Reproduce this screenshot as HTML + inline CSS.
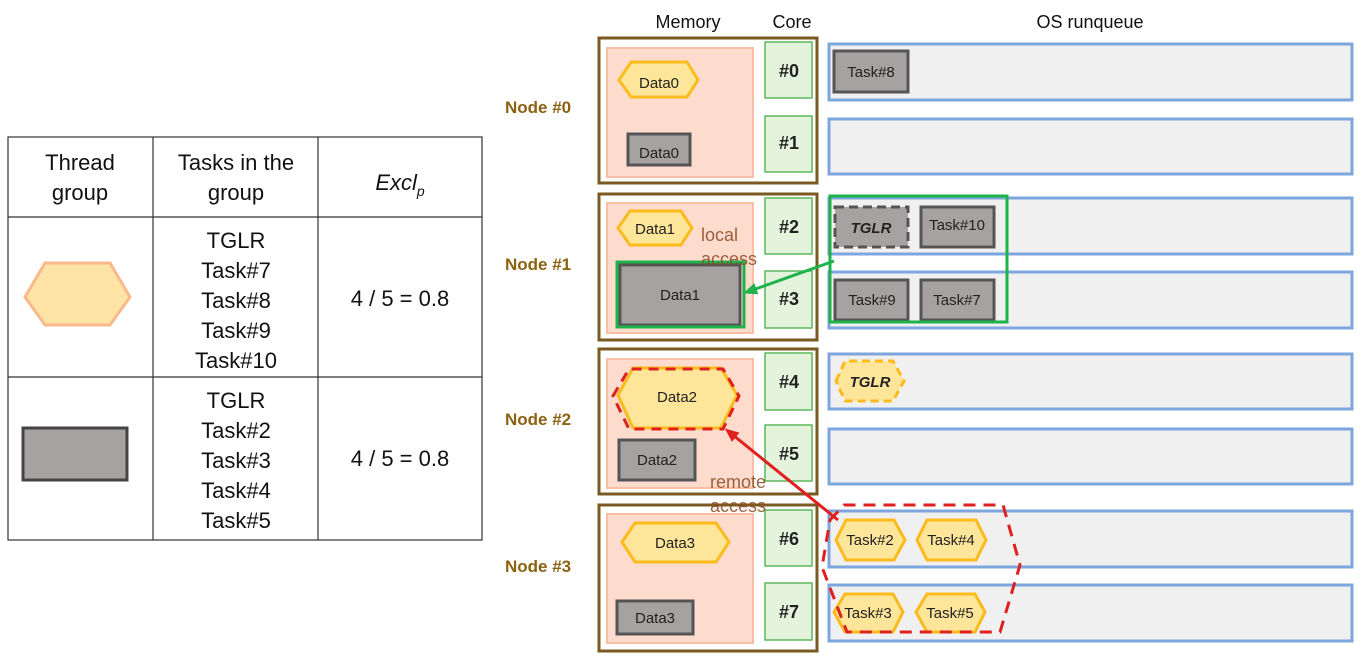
<!DOCTYPE html>
<html><head><meta charset="utf-8"><style>
html,body{margin:0;padding:0;background:#fff;}
svg{display:block;font-family:"Liberation Sans",sans-serif;}
</style></head><body>
<svg width="1365" height="665" viewBox="0 0 1365 665" xmlns="http://www.w3.org/2000/svg">
<defs>
<marker id="ag" markerWidth="14" markerHeight="12" refX="10" refY="6" orient="auto" markerUnits="userSpaceOnUse"><path d="M0,0 L14,6 L0,12 z" fill="#22b24c"/></marker>
<marker id="ar" markerWidth="14" markerHeight="12" refX="10" refY="6" orient="auto" markerUnits="userSpaceOnUse"><path d="M0,0 L14,6 L0,12 z" fill="#e0201e"/></marker>
</defs>
<g stroke="#333" stroke-width="1.2" fill="none">
<rect x="8" y="137" width="474" height="403"/>
<line x1="8" y1="217" x2="482" y2="217"/>
<line x1="8" y1="377" x2="482" y2="377"/>
<line x1="153" y1="137" x2="153" y2="540"/>
<line x1="318" y1="137" x2="318" y2="540"/>
</g>
<g font-size="22" fill="#111" text-anchor="middle">
<text x="80" y="170">Thread</text><text x="80" y="200">group</text>
<text x="236" y="170">Tasks in the</text><text x="236" y="200">group</text>
<text x="400" y="190" font-style="italic">Excl<tspan font-size="14" dy="6">p</tspan></text>
<text x="236" y="248">TGLR</text><text x="236" y="278">Task#7</text><text x="236" y="308">Task#8</text><text x="236" y="338">Task#9</text><text x="236" y="368">Task#10</text>
<text x="400" y="306">4 / 5 = 0.8</text>
<text x="236" y="408">TGLR</text><text x="236" y="438">Task#2</text><text x="236" y="468">Task#3</text><text x="236" y="498">Task#4</text><text x="236" y="528">Task#5</text>
<text x="400" y="466">4 / 5 = 0.8</text>
</g>
<polygon points="25,297 45,263 110,263 130,297 110,325 45,325" fill="#fde4a6" stroke="#f8b98c" stroke-width="3"/>
<rect x="23" y="428" width="104" height="52" fill="#a6a2a2" stroke="#444" stroke-width="3"/>

<g font-size="18" fill="#111" text-anchor="middle">
<text x="688" y="28">Memory</text><text x="792" y="28">Core</text><text x="1090" y="28">OS runqueue</text>
</g>
<g font-size="17" font-weight="bold" fill="#8b6210">
<text x="505" y="113">Node #0</text><text x="505" y="270">Node #1</text><text x="505" y="425">Node #2</text><text x="505" y="572">Node #3</text>
</g>
<g fill="#fff" stroke="#7a5a20" stroke-width="3">
<rect x="599" y="38" width="218" height="145"/>
<rect x="599" y="194" width="218" height="146"/>
<rect x="599" y="349" width="218" height="145"/>
<rect x="599" y="505" width="218" height="146"/>
</g>
<g fill="#fddccd" stroke="#f9bfa6" stroke-width="2">
<rect x="607" y="48" width="146" height="129"/>
<rect x="607" y="203" width="146" height="130"/>
<rect x="607" y="359" width="146" height="129"/>
<rect x="607" y="514" width="146" height="129"/>
</g>
<g fill="#e3f3dc" stroke="#5cb85c" stroke-width="1.5">
<rect x="765" y="42" width="47" height="56"/><rect x="765" y="116" width="47" height="56"/>
<rect x="765" y="198" width="47" height="56"/><rect x="765" y="271" width="47" height="57"/>
<rect x="765" y="353" width="47" height="57"/><rect x="765" y="425" width="47" height="56"/>
<rect x="765" y="510" width="47" height="56"/><rect x="765" y="583" width="47" height="57"/>
</g>
<g font-size="18" font-weight="bold" fill="#222" text-anchor="middle">
<text x="789" y="77">#0</text><text x="789" y="149">#1</text><text x="789" y="233">#2</text><text x="789" y="305">#3</text>
<text x="789" y="388">#4</text><text x="789" y="460">#5</text><text x="789" y="545">#6</text><text x="789" y="618">#7</text>
</g>
<g fill="#f0f0f0" stroke="#7ea6de" stroke-width="3">
<rect x="829" y="44" width="523" height="56"/><rect x="829" y="119" width="523" height="55"/>
<rect x="829" y="198" width="523" height="56"/><rect x="829" y="272" width="523" height="56"/>
<rect x="829" y="354" width="523" height="55"/><rect x="829" y="429" width="523" height="55"/>
<rect x="829" y="511" width="523" height="56"/><rect x="829" y="585" width="523" height="56"/>
</g>
<g fill="#a6a2a2" stroke="#555" stroke-width="3">
<rect x="834" y="51" width="74" height="41"/>
<rect x="628" y="134" width="62" height="31"/>
<rect x="620" y="265" width="120" height="60"/>
<rect x="921" y="207" width="73" height="40"/>
<rect x="835" y="280" width="73" height="40"/>
<rect x="921" y="280" width="73" height="40"/>
<rect x="619" y="440" width="76" height="40"/>
<rect x="617" y="601" width="76" height="33"/>
</g>
<rect x="835" y="207" width="73" height="40" fill="#a6a2a2" stroke="#555" stroke-width="3" stroke-dasharray="9,5"/>
<g fill="#fde59a" stroke="#fbbb1b" stroke-width="3">
<polygon points="619,80 631,62 687,62 698,80 687,97 631,97"/>
<polygon points="618,228 630,211 681,211 692,228 681,245 630,245"/>
<polygon points="618,395 633,368 721,368 737,395 721,428 633,428"/>
<polygon points="622,542 635,523 716,523 729,542 716,562 635,562"/>
<polygon points="836,540 846,520 894,520 905,540 894,560 846,560"/>
<polygon points="917,540 927,520 976,520 986,540 976,560 927,560"/>
<polygon points="834,612 845,594 893,594 903,612 893,632 845,632"/>
<polygon points="916,612 927,594 975,594 985,612 975,632 927,632"/>
</g>
<polygon points="836,381 845,361 893,361 904,381 893,401 845,401" fill="#fde59a" stroke="#fbbb1b" stroke-width="3" stroke-dasharray="8,5"/>
<g font-size="15" fill="#222" text-anchor="middle">
<text x="871" y="77">Task#8</text>
<text x="659" y="158">Data0</text>
<text x="659" y="88">Data0</text>
<text x="655" y="234">Data1</text>
<text x="680" y="300">Data1</text>
<text x="957" y="230">Task#10</text>
<text x="872" y="305">Task#9</text>
<text x="957" y="305">Task#7</text>
<text x="677" y="402">Data2</text>
<text x="657" y="465">Data2</text>
<text x="675" y="548">Data3</text>
<text x="655" y="623">Data3</text>
<text x="870" y="545">Task#2</text>
<text x="951" y="545">Task#4</text>
<text x="868" y="618">Task#3</text>
<text x="950" y="618">Task#5</text>
<text x="871" y="233" font-weight="bold" font-style="italic">TGLR</text>
<text x="870" y="387" font-weight="bold" font-style="italic">TGLR</text>
</g>
<rect x="617" y="262" width="127" height="65" fill="none" stroke="#1db34a" stroke-width="3"/>
<rect x="830" y="196" width="177" height="126" fill="none" stroke="#1db34a" stroke-width="3"/>
<line x1="834" y1="261" x2="747" y2="292" stroke="#1db34a" stroke-width="3" marker-end="url(#ag)"/>
<polygon points="613,396 629,369 723,369 739,396 723,429 629,429" fill="none" stroke="#e0201e" stroke-width="3" stroke-dasharray="10,7"/>
<polygon points="830,520 844,505 1003,505 1020,565 1000,632 847,632 822,567" fill="none" stroke="#e0201e" stroke-width="3" stroke-dasharray="12,8"/>
<line x1="838" y1="520" x2="728" y2="431" stroke="#e0201e" stroke-width="3" marker-end="url(#ar)"/>
<g font-size="18" fill="#8b4a22" opacity="0.85">
<text x="701" y="241">local</text><text x="701" y="265">access</text>
<text x="710" y="488">remote</text><text x="710" y="512">access</text>
</g>
</svg>
</body></html>
